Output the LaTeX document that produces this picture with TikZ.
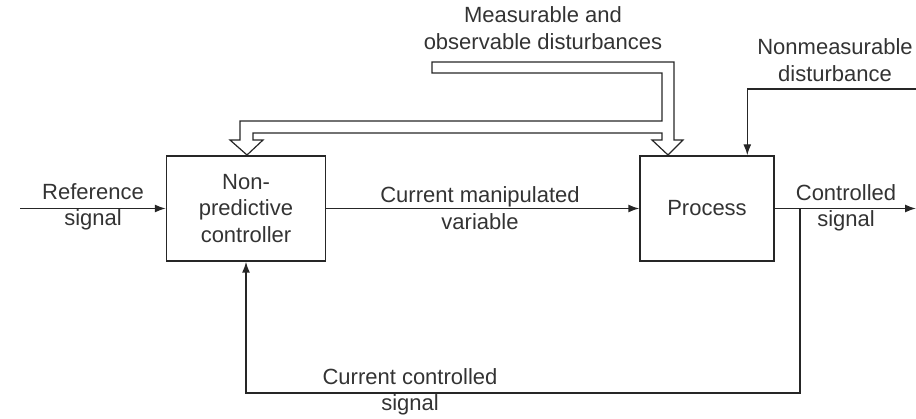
\documentclass[tikz,border=0pt]{standalone}
\usepackage{fontspec}
\setmainfont{Liberation Sans}
\usetikzlibrary{arrows.meta}
\begin{document}
\begin{tikzpicture}[x=1pt, y=-1pt, line join=miter, >={Latex[length=11pt,width=8pt]},
	font=\fontsize{22}{26.5}\selectfont, text=black!80,
	blockbox/.style={draw=black!85, line width=1.4pt, minimum width=#1, minimum height=105pt, inner sep=0pt, align=center},
	lbl/.style={align=center, inner sep=0pt},
	sig/.style={draw=black!85, line width=1.4pt, ->}]
	\useasboundingbox (0,0) rectangle (916,419);
	% Blocks
	\node[blockbox=159pt] (ctrl) at (246,208.5) {Non-\\predictive\\controller};
	\node[blockbox=134pt] (proc) at (707,208.5) {Process};
	% Signals
	\coordinate (refin) at (20,208.5);
	\coordinate (out) at (916,208.5);
	\coordinate (fb) at (800,208.5);
	\coordinate (nmd) at (916,89);
	\draw[sig] (refin) -- (ctrl.west);
	\draw[sig] (ctrl.east) -- (proc.west);
	\draw[sig] (proc.east) -- (out);
	\draw[sig] (fb) -- (800,393) -| (ctrl.south);
	\draw[sig] (nmd) -| ([xshift=108pt]proc.north west);
	% Measurable disturbances (hollow pipe)
	\draw[draw=black!85, line width=1.2pt] (432,62) -- (674,62) -- (674,140) -- (683,140) -- (668,155) -- (652,140) -- (662,140) -- (662,133)
		-- (253,133) -- (253,140) -- (263,140) -- (247,155) -- (230,140) -- (240,140) -- (240,121) -- (662,121) -- (662,73) -- (432,73) -- cycle;
	% Labels
	\node[lbl] (reflbl) at (93,207) {Reference\\signal};
	\node[lbl] (mvlbl) at (480,208) {Current manipulated\\variable};
	\node[lbl] (outlbl) at (846,208) {Controlled\\signal};
	\node[lbl] (fblbl) at (410,392) {Current controlled\\signal};
	\node[lbl] (nmdlbl) at (835,60) {Nonmeasurable\\disturbance};
	\node[lbl] (mdlbl) at (543,28) {Measurable and\\observable disturbances};
\end{tikzpicture}
\end{document}
